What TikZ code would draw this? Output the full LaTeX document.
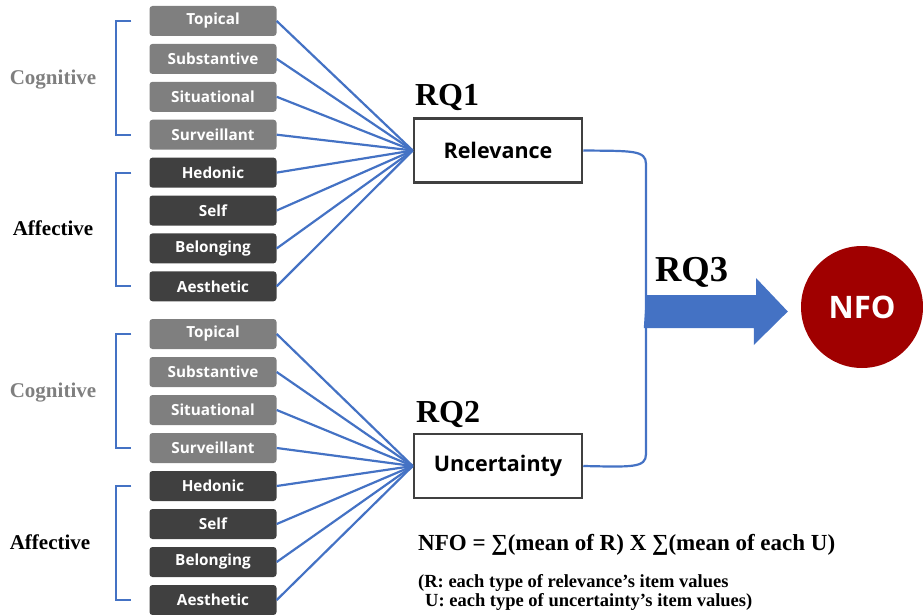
\documentclass[tikz,border=0pt]{standalone}
\usepackage{fontspec}
\setmainfont{Liberation Serif}
\setsansfont{Open Sans}
\usepackage{tikz}
\usetikzlibrary{positioning, calc}
\definecolor{linkblue}{RGB}{68,114,196}
\definecolor{coggray}{RGB}{127,127,127}
\definecolor{affgray}{RGB}{64,64,64}
\definecolor{nfored}{RGB}{160,0,0}

\begin{document}
\begin{tikzpicture}[x=1pt,y=-1pt,
	catbox/.style={rounded corners=3pt,minimum width=127pt,minimum height=30pt,inner sep=0pt,text=white,font=\sffamily\bfseries\fontsize{15.3}{17}\selectfont},
	cogbox/.style={catbox,fill=coggray},
	affbox/.style={catbox,fill=affgray},
	rqbox/.style={draw=affgray,line width=2.5pt,fill=white,minimum width=168pt,minimum height=64pt,inner sep=0pt,font=\sffamily\bfseries\fontsize{21.5}{23}\selectfont},
	rqlab/.style={font=\bfseries\fontsize{32}{34}\selectfont,inner sep=0pt},
	grouplab/.style={font=\bfseries\fontsize{21}{23}\selectfont,inner sep=0pt},
	link/.style={draw=linkblue,line width=2.2pt}]
	\useasboundingbox (0,0) rectangle (923,615);
	% relevance and uncertainty
	\node[rqbox] (rel) at (498,150.5) {Relevance};
	\node[rqbox] (unc) at (498,466) {Uncertainty};
	\node[rqlab] (rq1) at (447,98) {RQ1};
	\node[rqlab] (rq2) at (448,414) {RQ2};
	% item boxes, two stacks
	\foreach \lab [count=\i] in {Topical,Substantive,Situational,Surveillant,Hedonic,Self,Belonging,Aesthetic}{
		\ifnum\i<5 \def\kind{cogbox}\else \def\kind{affbox}\fi
		\node[\kind] (t\i) at (213,{21+37.9*(\i-1)}) {\lab};
		\node[\kind] (b\i) at (213,{334+38*(\i-1)}) {\lab};
		\draw[link] (t\i.east) -- (rel.west);
		\draw[link] (b\i.east) -- (unc.west);
	}
	% brackets
	\foreach \s in {t,b}{
		\draw[link] ([xshift=-18pt]\s1.west) -| ([xshift=-33pt]\s4.west) -- ([xshift=-18pt]\s4.west);
		\draw[link] ([xshift=-18pt]\s5.west) -| ([xshift=-33pt]\s8.west) -- ([xshift=-18pt]\s8.west);
	}
	\node[grouplab,text=coggray] (cog1) at (53,80) {Cognitive};
	\node[grouplab] (aff1) at (53,228) {Affective};
	\node[grouplab,text=coggray] (cog2) at (53,393) {Cognitive};
	\node[grouplab] (aff2) at (50,542) {Affective};
	% joining bracket
	\coordinate (join) at (646,311.5);
	\draw[link] (rel.east) .. controls (632,151) and (646,150) .. (646,164) -- (646,454) .. controls (646,468) and (632,467) .. (unc.east);
	% NFO and block arrow
	\node[circle,fill=nfored,minimum size=122pt,inner sep=0pt,text=white,font=\sffamily\bfseries\fontsize{31}{33}\selectfont] (nfo) at (862,307) {NFO};
	\coordinate (tip) at ([xshift=-13pt]nfo.west);
	\fill[linkblue] (join) ++(0,-16.5) -- ++(110,0) -- ++(0,-17) -- (tip |- join) -- ++(-34,33.5) -- ++(0,-17) -- ++(-110,0) -- cycle;
	\node[rqlab,font=\bfseries\fontsize{36.5}{38}\selectfont] (rq3) at (691.5,272) {RQ3};
	% formula
	\node[anchor=base west,inner sep=0pt,font=\bfseries\fontsize{23}{25}\selectfont] (formula) at (418,550) {NFO = ∑(mean of R) X ∑(mean of each U)};
	\node[anchor=base west,inner sep=0pt,font=\bfseries\fontsize{18.5}{20}\selectfont] (note1) at (418,587) {(R: each type of relevance’s item values};
	\node[anchor=base west,inner sep=0pt,font=\bfseries\fontsize{18.5}{20}\selectfont] (note2) at (425,606) {U: each type of uncertainty’s item values)};
\end{tikzpicture}
\end{document}
